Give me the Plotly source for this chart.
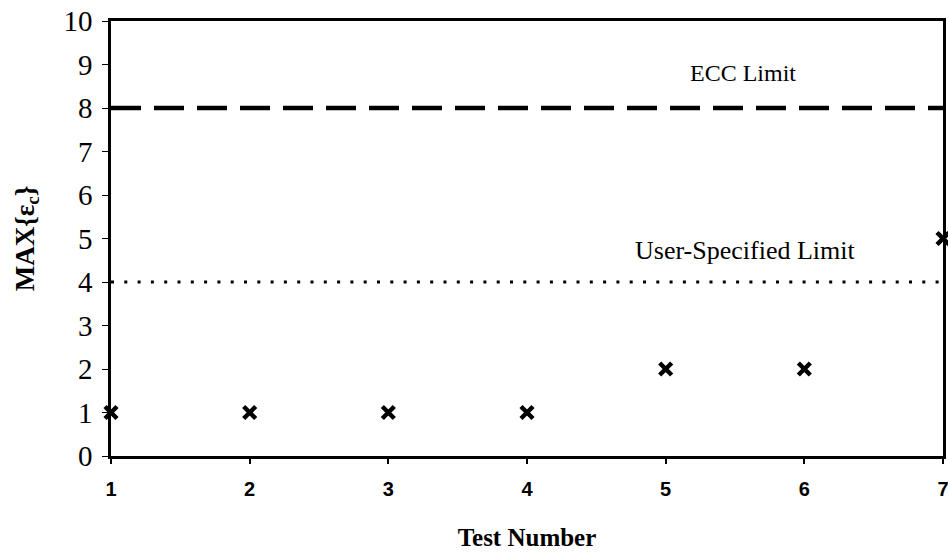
import plotly.graph_objects as go

tests = [1, 2, 3, 4, 5, 6, 7]
max_eps = [1, 1, 1, 1, 2, 2, 5]
ecc_limit = 8
user_limit = 4
x_ticks = [1, 2, 3, 4, 5, 6, 7]
y_ticks = [0, 1, 2, 3, 4, 5, 6, 7, 8, 9, 10]

SERIF = "Liberation Serif, Times New Roman, serif"
SANS = "Liberation Sans, Arial, sans-serif"

fig = go.Figure()
fig.add_trace(go.Scatter(x=[tests[0], tests[-1]], y=[ecc_limit, ecc_limit], mode="lines",
                         line=dict(color="black", width=4.5, dash="30px,13px"), showlegend=False,
                         hoverinfo="skip"))
fig.add_trace(go.Scatter(x=[tests[0], tests[-1]], y=[user_limit, user_limit], mode="lines",
                         line=dict(color="black", width=3, dash="3px,10.3px"), showlegend=False,
                         hoverinfo="skip"))
fig.add_trace(go.Scatter(x=tests, y=max_eps, mode="markers",
                         marker=dict(symbol="x-thin-open", size=12, color="black",
                                     line=dict(color="black", width=4.5)),
                         showlegend=False, cliponaxis=False))

fig.add_annotation(x=5.56, y=8.8, text="ECC Limit", showarrow=False,
                   font=dict(family=SERIF, size=24, color="black"))
fig.add_annotation(x=5.57, y=4.72, text="User-Specified Limit", showarrow=False,
                   font=dict(family=SERIF, size=26, color="black"))

fig.update_layout(
    width=948, height=556,
    margin=dict(l=111, r=5, t=21, b=100),
    paper_bgcolor="white", plot_bgcolor="white",
    xaxis=dict(range=[1, 7], tickvals=x_ticks, ticktext=["<b>%d</b>" % v for v in x_ticks],
               automargin=False, ticklabeloverflow="allow",
               showgrid=False, zeroline=False, showline=True, linecolor="black", linewidth=2.5,
               mirror=True, ticks="outside", ticklen=5, tickwidth=1.5, tickcolor="black",
               ticklabelstandoff=8,
               tickfont=dict(family=SANS, size=20, color="black"),
               title=dict(text="<b>Test Number</b>", standoff=30,
                          font=dict(family=SERIF, size=25, color="black"))),
    yaxis=dict(range=[0, 10], tickvals=y_ticks, automargin=False, ticklabeloverflow="allow",
               showgrid=False, zeroline=False, showline=True, linecolor="black", linewidth=2.5,
               mirror=True, ticks="outside", ticklen=6, tickwidth=1, tickcolor="black",
               ticklabelstandoff=4,
               tickfont=dict(family=SERIF, size=29, color="black"),
               title=dict(text="<b>MAX{ε<sub>c</sub>}</b>", standoff=22,
                          font=dict(family=SERIF, size=27, color="black"))),
)

fig.write_html("out.html", config={"displayModeBar": False},
               post_script="document.body.style.margin='0';document.body.style.overflow='hidden';")
